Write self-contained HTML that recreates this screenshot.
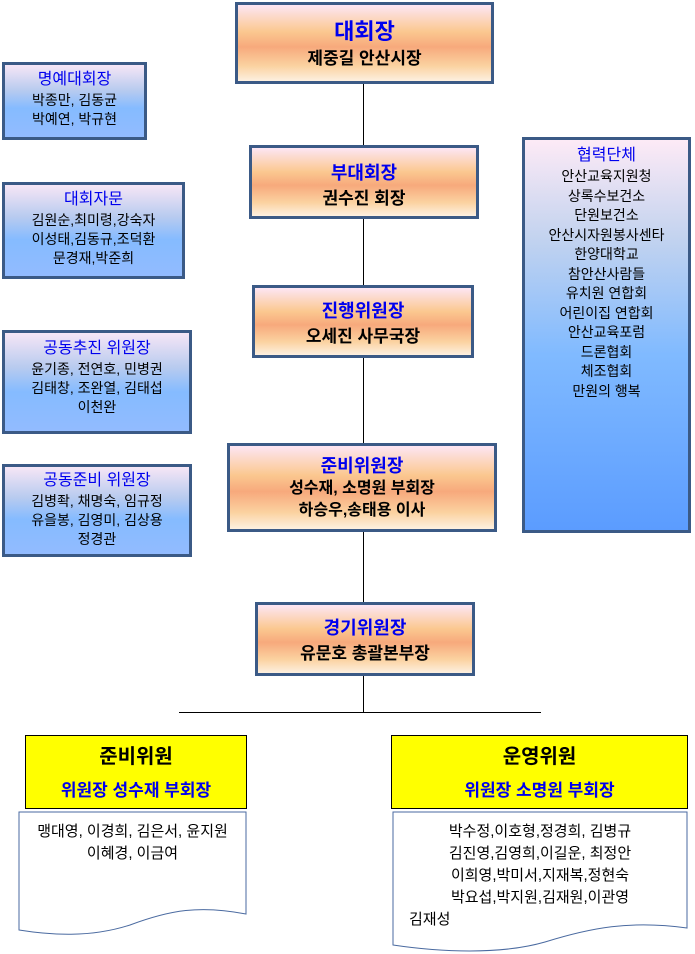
<!DOCTYPE html>
<html><head><meta charset="utf-8"><style>
*{margin:0;padding:0;box-sizing:border-box}
body{width:695px;height:954px;background:#fff;position:relative;overflow:hidden;font-family:"Liberation Sans","Noto Sans CJK KR","NanumGothic",sans-serif}
.b{position:absolute;border:3px solid #3b5a86;text-align:center;color:#000}
.o{background:linear-gradient(#fde6f4 0%,#fbc890 35%,#f7a97c 55%,#fbd2a0 80%,#fdf0e0 100%)}
.u{background:linear-gradient(#f6e6f6 0%,#b8cbef 35%,#85bbff 60%,#92bbff 100%)}
.t{color:#0000ee}
.o div{font-weight:bold}
.ln{position:absolute;background:#000}
.y{position:absolute;background:#ffff00;border:1px solid #000;text-align:center;font-weight:bold}
</style></head><body>
<div class="ln" style="left:363px;top:82px;width:1px;height:630px"></div>
<div class="ln" style="left:179px;top:712px;width:362px;height:1px"></div>

<div class="b o" style="left:235px;top:2px;width:259px;height:82px"><div class="t" style="font-size:22px;margin-top:13px;line-height:28px">대회장</div><div style="font-size:17px;line-height:26px">제중길 안산시장</div></div>
<div class="b o" style="left:249px;top:145px;width:230px;height:74px"><div class="t" style="font-size:18px;margin-top:12px;line-height:26px">부대회장</div><div style="font-size:17px;line-height:26px">권수진 회장</div></div>
<div class="b o" style="left:252px;top:285px;width:222px;height:73px"><div class="t" style="font-size:18px;margin-top:10px;line-height:26px">진행위원장</div><div style="font-size:17px;line-height:26px">오세진 사무국장</div></div>
<div class="b o" style="left:227px;top:443px;width:270px;height:89px"><div class="t" style="font-size:18px;margin-top:8px;line-height:24px">준비위원장</div><div style="font-size:16px;line-height:22px">성수재, 소명원 부회장<br>하승우,송태용 이사</div></div>
<div class="b o" style="left:255px;top:602px;width:220px;height:74px"><div class="t" style="font-size:18px;margin-top:10px;line-height:26px">경기위원장</div><div style="font-size:17px;line-height:26px">유문호 총괄본부장</div></div>

<div class="b u" style="left:2px;top:62px;width:145px;height:78px;font-size:14px;line-height:19px"><div class="t" style="font-size:16px;margin-top:4px;line-height:22px">명예대회장</div>박종만, 김동균<br>박예연, 박규현</div>
<div class="b u" style="left:2px;top:182px;width:183px;height:97px;font-size:14px;line-height:19px"><div class="t" style="font-size:16px;margin-top:4px;line-height:22px">대회자문</div>김원순,최미령,강숙자<br>이성태,김동규,조덕환<br>문경재,박준희</div>
<div class="b u" style="left:2px;top:330px;width:190px;height:104px;font-size:14px;line-height:19px"><div class="t" style="font-size:16px;margin-top:5px;line-height:22px">공동추진 위원장</div>윤기종, 전연호, 민병권<br>김태창, 조완열, 김태섭<br>이천완</div>
<div class="b u" style="left:2px;top:464px;width:190px;height:93px;font-size:14px;line-height:19px"><div class="t" style="font-size:16px;margin-top:3px;line-height:22px">공동준비 위원장</div>김병좍, 채명숙, 임규정<br>유을봉, 김영미, 김상용<br>정경관</div>

<div class="b" style="left:522px;top:137px;width:169px;height:396px;background:linear-gradient(#fdeaf6 0%,#c3d3ef 25%,#80baff 55%,#5b9cff 100%);font-size:14px;line-height:19.5px"><div class="t" style="font-size:16px;margin-top:5px;line-height:22px">협력단체</div>안산교육지원청<br>상록수보건소<br>단원보건소<br>안산시자원봉사센타<br>한양대학교<br>참안산사람들<br>유치원 연합회<br>어린이집 연합회<br>안산교육포럼<br>드론협회<br>체조협회<br>만원의 행복</div>

<div class="y" style="left:25px;top:735px;width:222px;height:74px"><div style="font-size:20px;margin-top:7px;line-height:28px">준비위원</div><div class="t" style="font-size:17px;margin-top:9px;line-height:22px">위원장 성수재 부회장</div></div>
<div class="y" style="left:391px;top:735px;width:297px;height:74px"><div style="font-size:20px;margin-top:7px;line-height:28px">운영위원</div><div class="t" style="font-size:17px;margin-top:9px;line-height:22px">위원장 소명원 부회장</div></div>

<svg style="position:absolute;left:0;top:0" width="695" height="954">
<path d="M19 812 L246 812 L246 914 C200 905,170 910,130 925 C90 938,50 935,19 930 Z" fill="#fff" stroke="#4a6aa0" stroke-width="1"/>
<path d="M393 812 L687 812 L687 928 C630 920,590 928,545 942 C500 955,440 952,393 945 Z" fill="#fff" stroke="#4a6aa0" stroke-width="1"/>
</svg>
<div style="position:absolute;left:19px;top:821px;width:227px;text-align:center;font-size:15px;line-height:22px">맹대영, 이경희, 김은서, 윤지원<br>이혜경, 이금여</div>
<div style="position:absolute;left:393px;top:821px;width:294px;text-align:center;font-size:15px;line-height:22px">박수정,이호형,정경희, 김병규<br>김진영,김영희,이길운, 최정안<br>이희영,박미서,지재복,정현숙<br>박요섭,박지원,김재원,이관영<br><span style="display:inline-block;width:262px;text-align:left">김재성</span></div>
</body></html>
